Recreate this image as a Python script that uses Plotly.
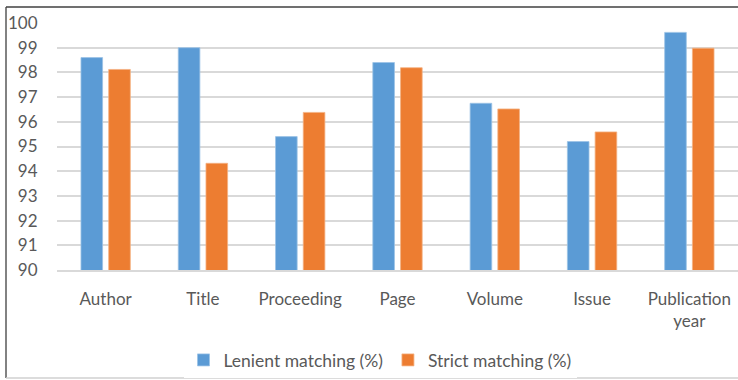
import plotly.graph_objects as go

# Field-level matching accuracy
categories = ["Author", "Title", "Proceeding", "Page", "Volume", "Issue", "Publication<br>year"]
lenient = [98.6, 99.0, 95.4, 98.4, 96.75, 95.2, 99.62]
strict = [98.12, 94.32, 96.38, 98.19, 96.52, 95.59, 98.98]
y_ticks = list(range(90, 101))

W, H = 738, 380
ML, MR, MT, MB = 57, 0, 23, 110
PW, PH = W - ML - MR, H - MT - MB

def px_x(x):
    return (x - ML) / PW

def px_y(y):
    return (H - MB - y) / PH

font = dict(family="Lato, 'Open Sans', sans-serif", size=17, color="#595959")
legend_font = dict(family="Lato, 'Open Sans', sans-serif", size=17.5, color="#595959")

fig = go.Figure()
fig.add_trace(go.Bar(
    x=categories, y=lenient, name="Lenient matching (%)",
    marker=dict(color="#5b9bd5", line=dict(color="#9cc3e6", width=0.8)),
))
fig.add_trace(go.Bar(
    x=categories, y=strict, name="Strict matching (%)",
    marker=dict(color="#ed7d31", line=dict(color="#f4b183", width=0.8)),
))

# chart frame: dark left/top edge, light bottom edge
fig.add_shape(type="line", xref="paper", yref="paper",
              x0=px_x(6), x1=px_x(6), y0=px_y(378), y1=px_y(7),
              line=dict(color="#595959", width=1.5))
fig.add_shape(type="line", xref="paper", yref="paper",
              x0=px_x(6), x1=px_x(740), y0=px_y(7), y1=px_y(7),
              line=dict(color="#404040", width=1.5))
fig.add_shape(type="line", xref="paper", yref="paper",
              x0=px_x(6), x1=px_x(740), y0=px_y(378), y1=px_y(378),
              line=dict(color="#d0d0d0", width=1.5))

fig.update_layout(
    width=W, height=H,
    margin=dict(l=ML, r=MR, t=MT, b=MB, pad=0),
    paper_bgcolor="white", plot_bgcolor="white",
    font=font,
    barmode="group", bargap=0.43, bargroupgap=0.22,
    showlegend=True,
    legend=dict(orientation="h", xanchor="center", x=px_x(380),
                yanchor="middle", y=px_y(360), font=legend_font,
                itemwidth=30, traceorder="normal"),
)
fig.update_yaxes(
    range=[90, 100], tickvals=y_ticks, showgrid=True,
    gridcolor="#d9d9d9", gridwidth=1.5, zeroline=False,
    showline=False, ticks="outside", ticklen=15,
    tickcolor="rgba(0,0,0,0)", tickfont=font,
)
fig.update_xaxes(
    showline=True, linecolor="#d9d9d9", linewidth=1.5,
    ticks="outside", ticklen=13, tickcolor="rgba(0,0,0,0)",
    tickfont=font,
)

fig.write_html("out.html")
